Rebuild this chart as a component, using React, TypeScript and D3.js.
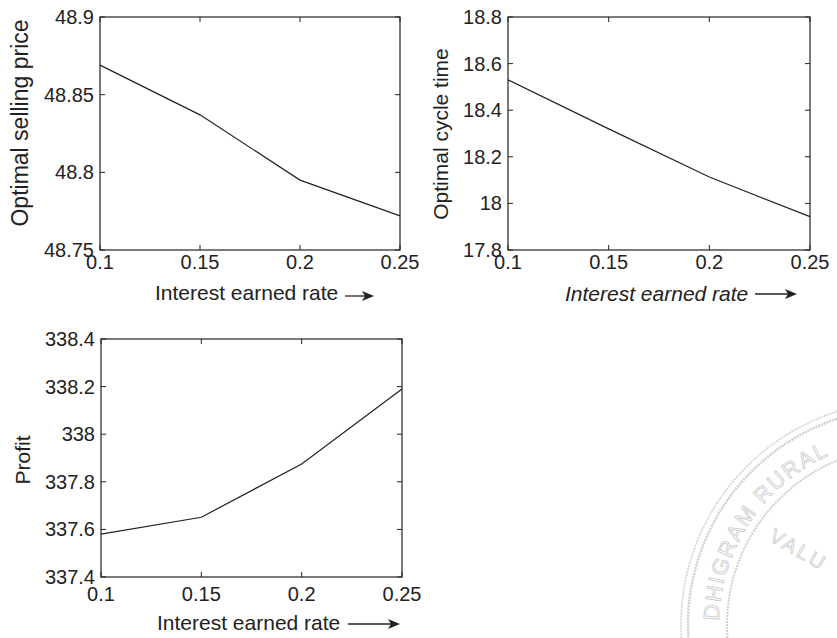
import { useEffect, useRef } from 'react';
import * as d3 from 'd3';

// valores
const rates = [0.1, 0.15, 0.2, 0.25];
const sellingPrice = [48.869, 48.837, 48.795, 48.772];
const cycleTime = [18.53, 18.32, 18.113, 17.943];
const profit = [337.58, 337.651, 337.875, 338.19];

const xTicks = [0.1, 0.15, 0.2, 0.25];
const priceTicks = [48.75, 48.8, 48.85, 48.9];
const cycleTicks = [17.8, 18, 18.2, 18.4, 18.6, 18.8];
const profitTicks = [337.4, 337.6, 337.8, 338, 338.2, 338.4];

const FONT = '"Liberation Sans", Arial, Helvetica, sans-serif';
const INK = '#222';

const App = () => {
  const ref = useRef<SVGSVGElement>(null);

  useEffect(() => {
    if (!ref.current) return;
    const svg = d3.select(ref.current);
    svg.selectAll('*').remove();

    const panels = [
      { box: [100, 17, 400, 250], values: sellingPrice, yTicks: priceTicks, ylabel: 'Optimal selling price',
        ylab: [28, 123, 23], xlab: [155, 300, false], arrow: [345, 374, 296], xtickY: 269 },
      { box: [508, 17, 810, 250], values: cycleTime, yTicks: cycleTicks, ylabel: 'Optimal cycle time',
        ylab: [448, 134, 21], xlab: [565, 301, true], arrow: [755, 797, 294], xtickY: 269 },
      { box: [101, 339, 402, 577], values: profit, yTicks: profitTicks, ylabel: 'Profit',
        ylab: [30, 460, 21], xlab: [157, 630, false], arrow: [348, 400, 624], xtickY: 601 },
    ];

    panels.forEach(p => {
      const [x0, y0, x1, y1] = p.box as number[];
      const x = d3.scaleLinear().domain(d3.extent(xTicks) as [number, number]).range([x0, x1]);
      const y = d3.scaleLinear().domain(d3.extent(p.yTicks) as [number, number]).range([y1, y0]);
      const g = svg.append('g');

      // marco
      g.append('rect')
        .attr('x', x0).attr('y', y0).attr('width', x1 - x0).attr('height', y1 - y0)
        .attr('fill', 'none').attr('stroke', INK).attr('stroke-width', 1.2);

      // ticks hacia adentro (estilo matlab)
      const tl = 5;
      xTicks.forEach(t => {
        g.append('line').attr('x1', x(t)).attr('x2', x(t)).attr('y1', y1).attr('y2', y1 - tl).attr('stroke', INK);
        g.append('line').attr('x1', x(t)).attr('x2', x(t)).attr('y1', y0).attr('y2', y0 + tl).attr('stroke', INK);
        g.append('text')
          .attr('x', x(t)).attr('y', p.xtickY)
          .attr('text-anchor', 'middle')
          .style('font-family', FONT).style('font-size', '20px').attr('fill', INK)
          .text(String(t));
      });
      p.yTicks.forEach(t => {
        g.append('line').attr('x1', x0).attr('x2', x0 + tl).attr('y1', y(t)).attr('y2', y(t)).attr('stroke', INK);
        g.append('line').attr('x1', x1).attr('x2', x1 - tl).attr('y1', y(t)).attr('y2', y(t)).attr('stroke', INK);
        g.append('text')
          .attr('x', x0 - 6).attr('y', y(t) + 7)
          .attr('text-anchor', 'end')
          .style('font-family', FONT).style('font-size', '20px').attr('fill', INK)
          .text(String(t));
      });

      // curva
      const line = d3.line<number>().x((_, i) => x(rates[i])).y(d => y(d));
      g.append('path').datum(p.values)
        .attr('fill', 'none').attr('stroke', INK).attr('stroke-width', 1.2)
        .attr('d', line);

      // etiqueta y
      const [lx, ly, fs] = p.ylab as number[];
      g.append('text')
        .attr('transform', `translate(${lx},${ly}) rotate(-90)`)
        .attr('text-anchor', 'middle')
        .style('font-family', FONT).style('font-size', `${fs}px`).attr('fill', INK)
        .text(p.ylabel);

      // etiqueta x con flecha
      const [tx, ty, italic] = p.xlab as [number, number, boolean];
      g.append('text')
        .attr('x', tx).attr('y', ty)
        .style('font-family', FONT).style('font-size', '21px')
        .style('font-style', italic ? 'italic' : 'normal').attr('fill', INK)
        .text('Interest earned rate');
      const [ax0, ax1, ay] = p.arrow as number[];
      g.append('line').attr('x1', ax0).attr('x2', ax1 - 8).attr('y1', ay).attr('y2', ay)
        .attr('stroke', INK).attr('stroke-width', 1.3);
      g.append('path')
        .attr('d', `M${ax1},${ay} L${ax1 - 12},${ay - 5} L${ax1 - 9},${ay} L${ax1 - 12},${ay + 5} Z`)
        .attr('fill', INK);
    });

    // sello borroso en la esquina
    const stamp = svg.append('g').attr('opacity', 0.45);
    const cx = 905, cy = 625;
    [[224, 1.5], [217, 2.5], [178, 2]].forEach(([r, w]) => {
      stamp.append('circle').attr('cx', cx).attr('cy', cy).attr('r', r)
        .attr('fill', 'none').attr('stroke', '#999').attr('stroke-width', w)
        .attr('stroke-dasharray', '2,1');
    });
    stamp.append('path').attr('id', 'stampArc')
      .attr('d', `M${cx - 186},${cy} A186,186 0 0,1 ${cx - 68},${cy - 173}`)
      .attr('fill', 'none');
    stamp.append('text')
      .style('font-family', FONT).style('font-size', '22px').attr('fill', 'none')
      .attr('stroke', '#888').attr('stroke-width', 0.8).attr('letter-spacing', 2)
      .append('textPath').attr('href', '#stampArc').attr('startOffset', '2%')
      .text('DHIGRAM RURAL');
    stamp.append('text')
      .attr('transform', `translate(${768},${540}) rotate(30)`)
      .style('font-family', FONT).style('font-size', '20px').attr('fill', 'none')
      .attr('stroke', '#888').attr('stroke-width', 0.8).attr('letter-spacing', 3)
      .text('VALU');
  }, []);

  return (
    <svg ref={ref} width={837} height={638}
      style={{ position: 'absolute', left: 0, top: 0, background: 'white' }} />
  );
};

export default App;
